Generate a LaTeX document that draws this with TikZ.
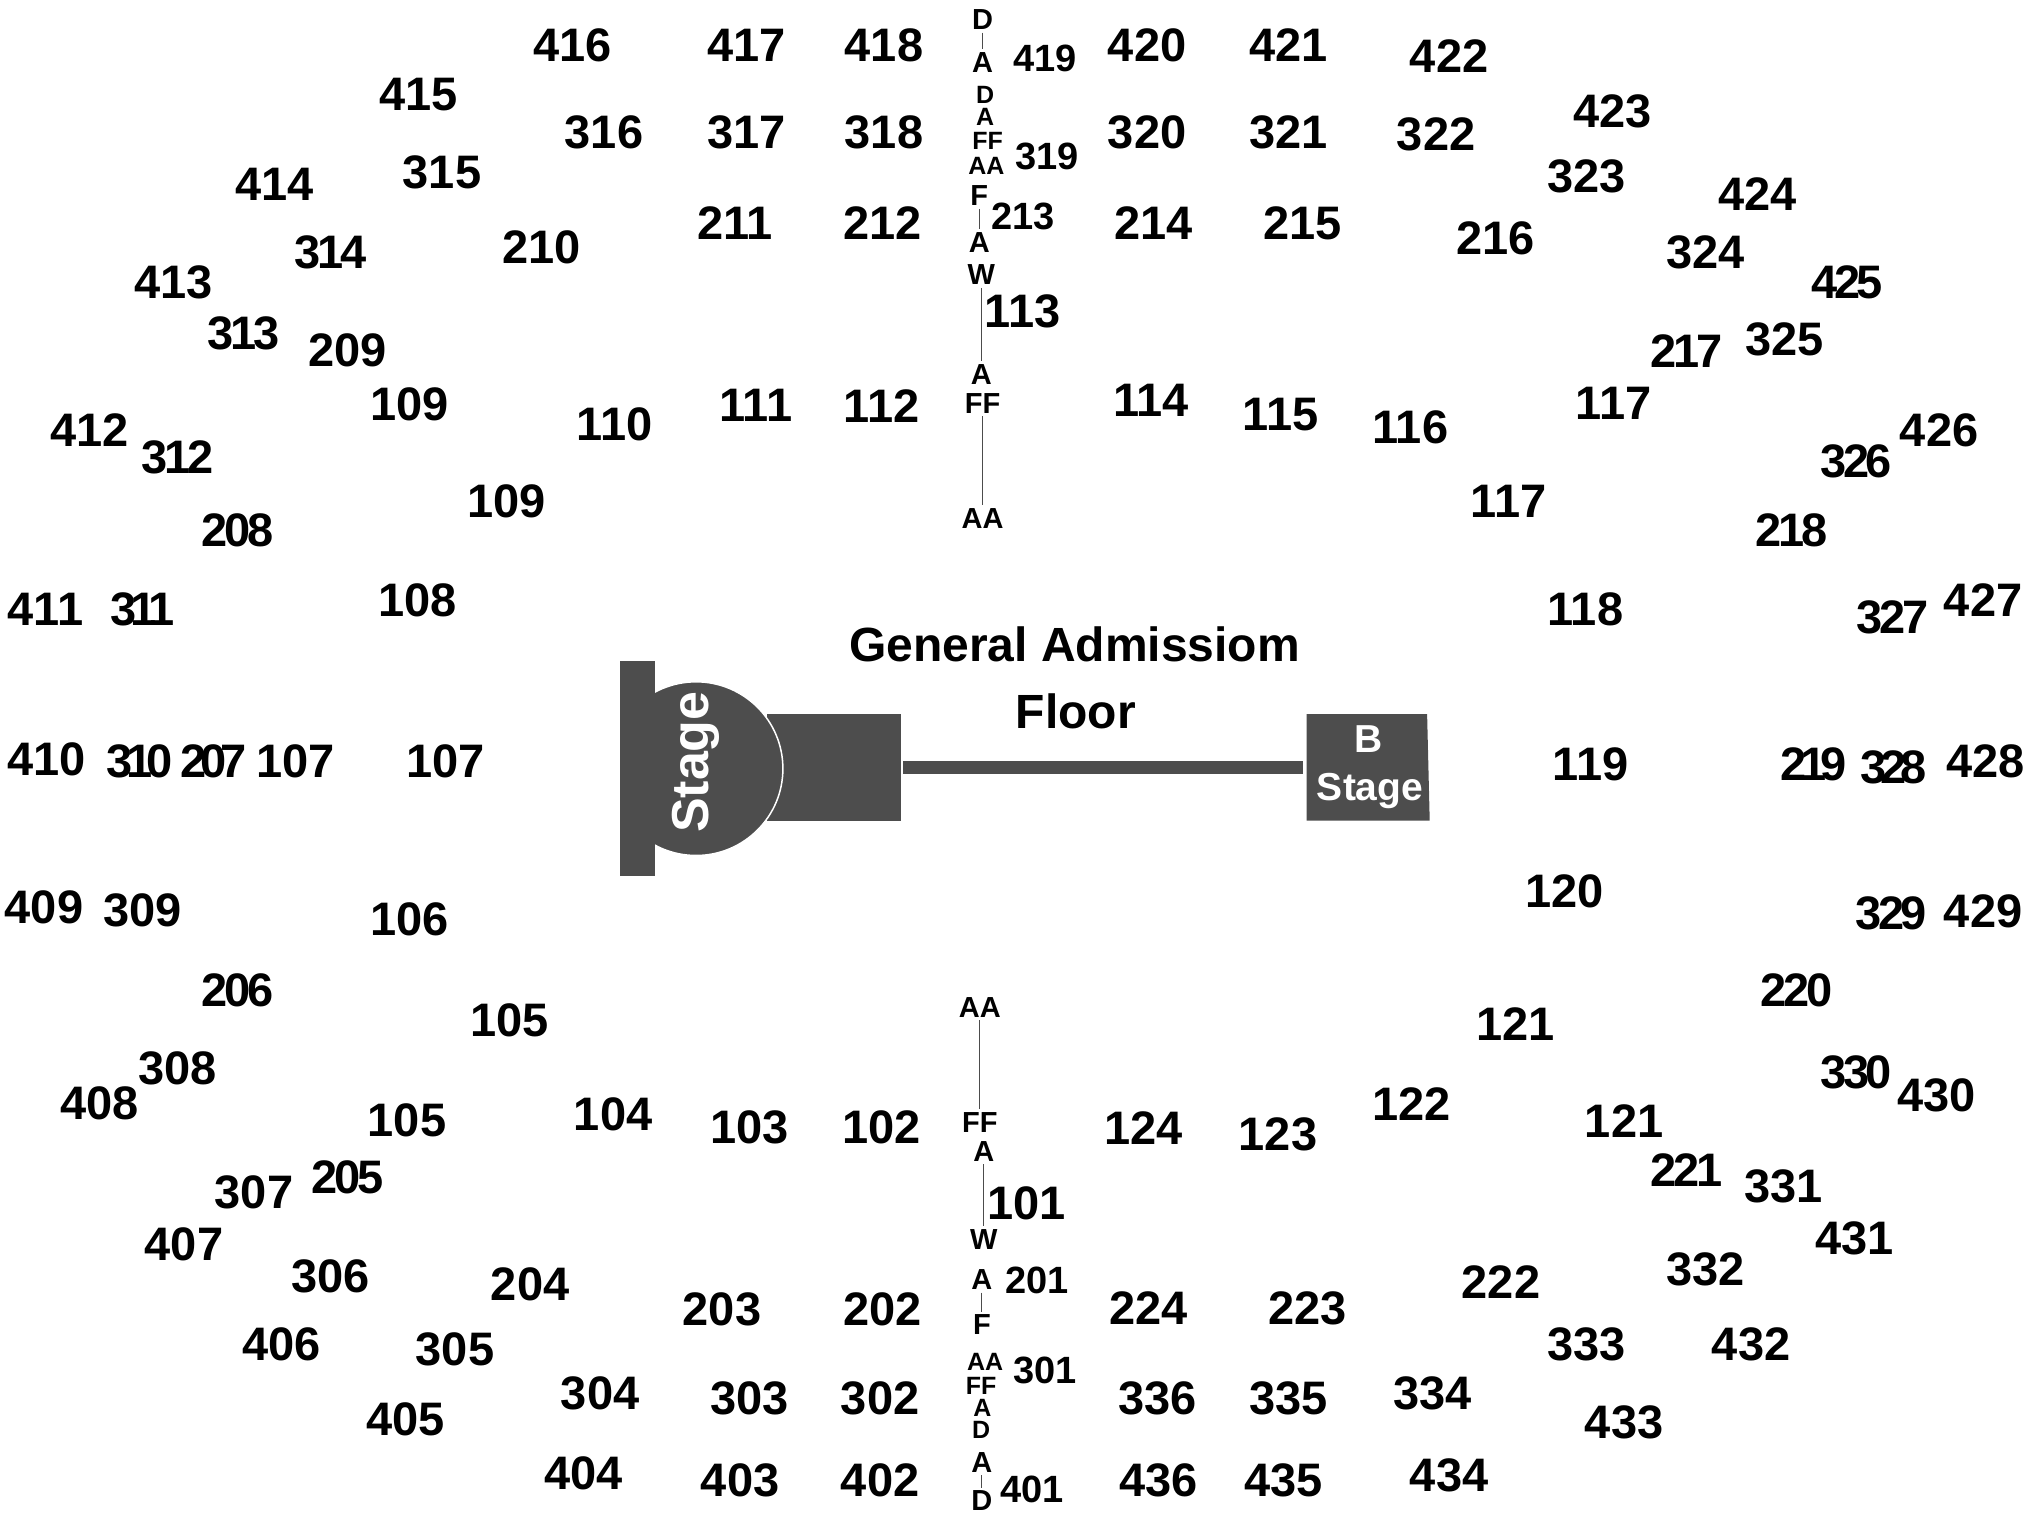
\documentclass[tikz,border=0pt]{standalone}
\usepackage{fontspec}
\setmainfont{Liberation Sans}
\definecolor{stagegray}{HTML}{4D4D4D}
\tikzset {
    x=1.2962pt,
    y=-1.2962pt,
    seat/.style={inner sep=0pt, font=\bfseries\fontsize{47}{47}\selectfont},
    seatmid/.style={inner sep=0pt, font=\bfseries\fontsize{47}{47}\selectfont\addfontfeature{LetterSpace=-7}},
    seattight/.style={inner sep=0pt, font=\bfseries\fontsize{47}{47}\selectfont\addfontfeature{LetterSpace=-13}},
    seatsm/.style={inner sep=0pt, font=\bfseries\fontsize{38}{38}\selectfont},
    rowbig/.style={inner sep=3pt, font=\bfseries\fontsize{29}{29}\selectfont},
    rowsm/.style={inner sep=0pt, font=\bfseries\fontsize{25}{25}\selectfont},
    aisle/.style={line width=0.9pt, black!70},
    floortext/.style={inner sep=0pt, font=\bfseries\fontsize{48}{48}\selectfont},
    stagetext/.style={inner sep=0pt, text=white, font=\bfseries\fontsize{39}{39}\selectfont}
}
\begin{document}
\begin{tikzpicture}
    \useasboundingbox (0,0) rectangle (1566.9,1174.2);

    % stage
    \fill[stagegray] (592,551) rectangle (695,633);
    \begin{scope}
        \clip (490,500) rectangle (620,680);
        \fill[stagegray, draw=white, line width=1.5pt] (537,593) circle (67);
    \end{scope}
    \fill[stagegray] (478,510) rectangle (505,676);
    \fill[stagegray] (697,587) rectangle (1005,597);
    \fill[stagegray] (1008,551) -- (1101,551) -- (1103,633) -- (1008,633) -- cycle;
    \node[stagetext, rotate=90, font=\bfseries\fontsize{52}{52}\selectfont] (stage) at (537,588) {Stage};
    \node[stagetext] (bname) at (1056,570) {B};
    \node[stagetext] (bstage) at (1057,610) {Stage};
    \node[floortext] (general) at (829,497) {General Admissiom};
    \node[floortext] (floor) at (830,549) {Floor};

    % 400 level
    \node[seat] (s416) at (442,35) {416};
    \node[seat] (s417) at (576,35) {417};
    \node[seat] (s418) at (682,35) {418};
    \node[seatsm] (s419) at (806,45) {419};
    \node[seat] (s420) at (885,35) {420};
    \node[seat] (s421) at (994,35) {421};
    \node[seat] (s422) at (1118,43) {422};
    \node[seat] (s423) at (1244,86) {423};
    \node[seat] (s424) at (1356,150) {424};
    \node[seatmid] (s425) at (1425,218) {425};
    \node[seat] (s426) at (1496,332) {426};
    \node[seat] (s427) at (1530,463) {427};
    \node[seat] (s428) at (1532,587) {428};
    \node[seat] (s429) at (1530,703) {429};
    \node[seat] (s430) at (1494,845) {430};
    \node[seat] (s431) at (1431,955) {431};
    \node[seat] (s432) at (1351,1037) {432};
    \node[seat] (s433) at (1253,1097) {433};
    \node[seat] (s434) at (1118,1138) {434};
    \node[seat] (s435) at (990,1142) {435};
    \node[seat] (s436) at (894,1142) {436};
    \node[seatsm] (s401) at (796,1149) {401};
    \node[seat] (s402) at (679,1142) {402};
    \node[seat] (s403) at (571,1142) {403};
    \node[seat] (s404) at (450,1137) {404};
    \node[seat] (s405) at (313,1095) {405};
    \node[seat] (s406) at (217,1037) {406};
    \node[seat] (s407) at (142,960) {407};
    \node[seat] (s408) at (77,851) {408};
    \node[seat] (s409) at (34,700) {409};
    \node[seat] (s410) at (36,586) {410};
    \node[seat] (s411) at (35,470) {411};
    \node[seat] (s412) at (69,332) {412};
    \node[seat] (s413) at (134,218) {413};
    \node[seat] (s414) at (212,142) {414};
    \node[seat] (s415) at (323,73) {415};

    % 300 level
    \node[seat] (s316) at (466,102) {316};
    \node[seat] (s317) at (576,102) {317};
    \node[seat] (s318) at (682,102) {318};
    \node[seatsm] (s319) at (808,121) {319};
    \node[seat] (s320) at (885,102) {320};
    \node[seat] (s321) at (994,102) {321};
    \node[seat] (s322) at (1108,104) {322};
    \node[seat] (s323) at (1224,136) {323};
    \node[seat] (s324) at (1316,195) {324};
    \node[seat] (s325) at (1377,262) {325};
    \node[seatmid] (s326) at (1432,356) {326};
    \node[seatmid] (s327) at (1460,476) {327};
    \node[seattight] (s328) at (1461,592) {328};
    \node[seatmid] (s329) at (1459,705) {329};
    \node[seatmid] (s330) at (1432,827) {330};
    \node[seat] (s331) at (1376,915) {331};
    \node[seat] (s332) at (1316,979) {332};
    \node[seat] (s333) at (1224,1037) {333};
    \node[seat] (s334) at (1105,1075) {334};
    \node[seat] (s335) at (994,1079) {335};
    \node[seat] (s336) at (893,1079) {336};
    \node[seatsm] (s301) at (806,1057) {301};
    \node[seat] (s302) at (679,1079) {302};
    \node[seat] (s303) at (578,1079) {303};
    \node[seat] (s304) at (463,1075) {304};
    \node[seat] (s305) at (351,1041) {305};
    \node[seat] (s306) at (255,985) {306};
    \node[seat] (s307) at (196,920) {307};
    \node[seat] (s308) at (137,824) {308};
    \node[seat] (s309) at (110,702) {309};
    \node[seattight] (s310) at (108,587) {310};
    \node[seattight] (s311) at (110,470) {311};
    \node[seatmid] (s312) at (137,353) {312};
    \node[seatmid] (s313) at (188,257) {313};
    \node[seatmid] (s314) at (255,195) {314};
    \node[seat] (s315) at (341,133) {315};

    % 200 level
    \node[seat] (s210) at (418,191) {210};
    \node[seat] (s211) at (567,172) {211};
    \node[seat] (s212) at (681,172) {212};
    \node[seatsm] (s213) at (789,167) {213};
    \node[seat] (s214) at (890,172) {214};
    \node[seat] (s215) at (1005,172) {215};
    \node[seat] (s216) at (1154,184) {216};
    \node[seatmid] (s217) at (1301,271) {217};
    \node[seatmid] (s218) at (1382,409) {218};
    \node[seattight] (s219) at (1399,590) {219};
    \node[seatmid] (s220) at (1386,764) {220};
    \node[seatmid] (s221) at (1301,903) {221};
    \node[seat] (s222) at (1158,989) {222};
    \node[seat] (s223) at (1009,1009) {223};
    \node[seat] (s224) at (886,1009) {224};
    \node[seatsm] (s201) at (800,988) {201};
    \node[seat] (s202) at (681,1010) {202};
    \node[seat] (s203) at (557,1010) {203};
    \node[seat] (s204) at (409,991) {204};
    \node[seatmid] (s205) at (268,908) {205};
    \node[seatmid] (s206) at (183,764) {206};
    \node[seattight] (s207) at (165,587) {207};
    \node[seatmid] (s208) at (183,409) {208};
    \node[seat] (s209) at (268,270) {209};

    % 100 level
    \node[seat] (s113) at (789,240) {113};
    \node[seat] (s112) at (680,313) {112};
    \node[seat] (s111) at (583,313) {111};
    \node[seat] (s110) at (474,327) {110};
    \node[seat] (s109a) at (316,312) {109};
    \node[seat] (s109b) at (391,387) {109};
    \node[seat] (s108) at (322,463) {108};
    \node[seat] (s107a) at (344,587) {107};
    \node[seat] (s107b) at (228,587) {107};
    \node[seat] (s106) at (316,709) {106};
    \node[seat] (s105a) at (393,787) {105};
    \node[seat] (s105b) at (314,864) {105};
    \node[seat] (s104) at (473,860) {104};
    \node[seat] (s103) at (578,870) {103};
    \node[seat] (s102) at (680,870) {102};
    \node[seat] (s101) at (792,928) {101};
    \node[seat] (s124) at (882,870) {124};
    \node[seat] (s123) at (986,875) {123};
    \node[seat] (s122) at (1089,852) {122};
    \node[seat] (s121a) at (1169,790) {121};
    \node[seat] (s121b) at (1253,865) {121};
    \node[seat] (s120) at (1207,688) {120};
    \node[seat] (s119) at (1227,590) {119};
    \node[seat] (s118) at (1223,470) {118};
    \node[seat] (s117a) at (1164,387) {117};
    \node[seat] (s117b) at (1245,311) {117};
    \node[seat] (s116) at (1088,330) {116};
    \node[seat] (s115) at (988,320) {115};
    \node[seat] (s114) at (888,309) {114};

    % top aisle
    \node[rowbig] (tD4) at (758,15) {D};
    \node[rowbig] (tA4) at (758,48) {A};
    \node[rowsm] (tD3) at (760,73) {D};
    \node[rowsm] (tA3) at (760,90) {A};
    \node[rowsm] (tFF3) at (762,109) {FF};
    \node[rowsm] (tAA3) at (761,128) {AA};
    \node[rowbig] (tF2) at (755.5,151) {F};
    \node[rowbig] (tA2) at (755.5,187) {A};
    \node[rowbig] (tW1) at (757,212) {W};
    \node[rowbig] (tA1) at (757,289) {A};
    \node[rowbig] (tFF1) at (758,311) {FF};
    \node[rowbig] (tAA1) at (758,400) {AA};

    % bottom aisle
    \node[rowbig] (bAA1) at (756,777) {AA};
    \node[rowbig] (bFF1) at (756,866) {FF};
    \node[rowbig] (bA1) at (759,888) {A};
    \node[rowbig] (bW1) at (759,956) {W};
    \node[rowbig] (bA2) at (757.5,987) {A};
    \node[rowbig] (bF2) at (757.5,1022) {F};
    \node[rowsm] (bAA3) at (760,1051) {AA};
    \node[rowsm] (bFF3) at (757,1069) {FF};
    \node[rowsm] (bA3) at (758,1086) {A};
    \node[rowsm] (bD3) at (757,1103) {D};
    \node[rowbig] (bA4) at (757.5,1128) {A};
    \node[rowbig] (bD4) at (757.5,1158) {D};

    \draw[aisle]
    (tD4) -- (tA4)
    (tF2) -- (tA2)
    (tW1) -- (tA1)
    (tFF1) -- (tAA1)
    (bAA1) -- (bFF1)
    (bA1) -- (bW1)
    (bA2) -- (bF2)
    (bA4) -- (bD4);
\end{tikzpicture}
\end{document}
